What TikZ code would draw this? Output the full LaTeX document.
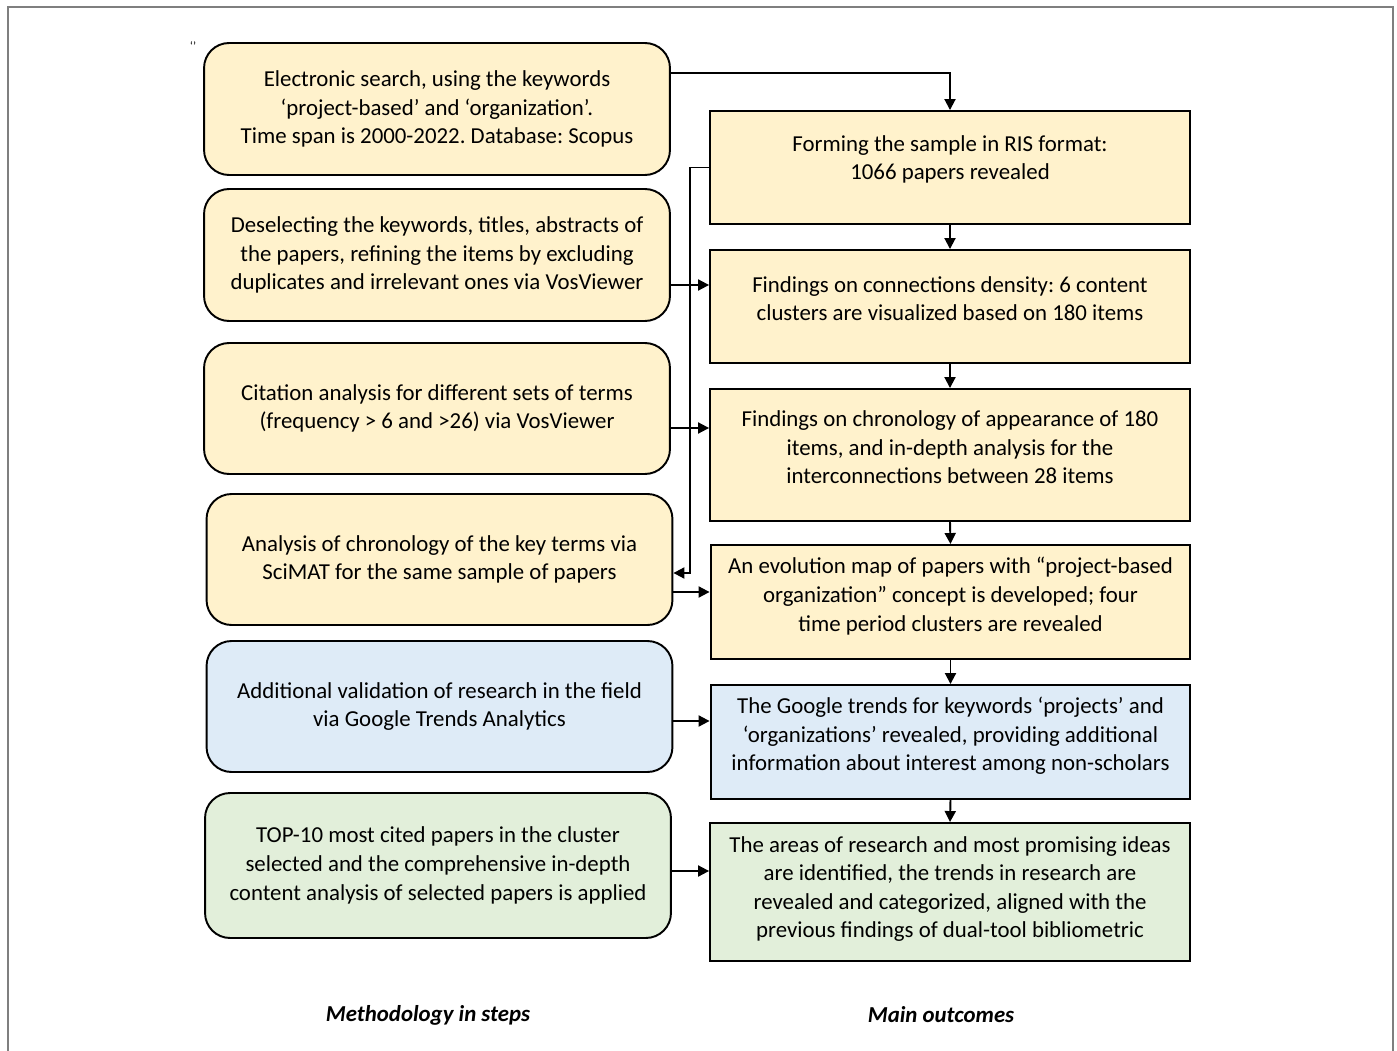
\documentclass[tikz,border=0pt]{standalone}
\usepackage{fontspec}
\setmainfont{Carlito}
\usetikzlibrary{arrows.meta}
\definecolor{stepyellow}{HTML}{FFF2CC}
\definecolor{stepblue}{HTML}{DEEBF7}
\definecolor{stepgreen}{HTML}{E2EFDA}
\definecolor{framegray}{HTML}{7F7F7F}
\newcommand{\boxfont}{\fontsize{13}{16.3}\selectfont}
\frenchspacing
\tikzset{
	inbox/.style={draw, line width=1.1pt, rounded corners=0.5cm, minimum width=9.32cm, align=center, font=\boxfont},
	outbox/.style={draw, line width=1.1pt, minimum width=9.6cm},
	txt/.style={align=center, font=\boxfont},
	conn/.style={line width=1.1pt, -{Triangle[length=0.22cm,width=0.22cm]}},
}
\begin{document}
	\begin{tikzpicture}[x=0.02cm, y=-0.02cm]
		\useasboundingbox (0,0) rectangle (1397,1051);
		% Frame
		\draw [framegray, line width=1.1pt] (8,1051) -- (8,7) -- (1393,7) -- (1393,1051);
		\node [font=\scriptsize] (tick) at (193,46) {‘’};
		% Method steps
		\node [inbox, fill=stepyellow, minimum height=2.64cm] (in1) at (437,109) {Electronic search, using the keywords\\‘project-based’ and ‘organization’.\\Time span is 2000-2022. Database: Scopus};
		\node [inbox, fill=stepyellow, minimum height=2.64cm] (in2) at (437,255) {Deselecting the keywords, titles, abstracts of\\the papers, refining the items by excluding\\duplicates and irrelevant ones via VosViewer};
		\node [inbox, fill=stepyellow, minimum height=2.62cm] (in3) at (437,408.5) {Citation analysis for different sets of terms\\(frequency > 6 and >26) via VosViewer};
		\node [inbox, fill=stepyellow, minimum height=2.62cm] (in4) at (439.5,559.5) {Analysis of chronology of the key terms via\\SciMAT for the same sample of papers};
		\node [inbox, fill=stepblue, minimum height=2.62cm] (in5) at (439.5,706.5) {Additional validation of research in the field\\via Google Trends Analytics};
		\node [inbox, fill=stepgreen, minimum height=2.9cm] (in6) at (438,865.5) {TOP-10 most cited papers in the cluster\\selected and the comprehensive in-depth\\content analysis of selected papers is applied};
		% Outcomes
		\node [outbox, fill=stepyellow, minimum height=2.26cm] (r1) at (950,167.5) {};
		\node [txt] (r1t) at (950,159.5) {Forming the sample in RIS format:\\1066 papers revealed};
		\node [outbox, fill=stepyellow, minimum height=2.26cm] (r2) at (950,306.5) {};
		\node [txt] (r2t) at (950,298.5) {Findings on connections density: 6 content\\clusters are visualized based on 180 items};
		\node [outbox, fill=stepyellow, minimum height=2.64cm] (r3) at (950,455) {};
		\node [txt] (r3t) at (950,447.5) {Findings on chronology of appearance of 180\\items, and in-depth analysis for the\\interconnections between 28 items};
		\node [outbox, fill=stepyellow, minimum height=2.28cm] (r4) at (950.5,602) {};
		\node [txt] (r4t) at (950.5,596) {An evolution map of papers with “project-based\\organization” concept is developed; four\\time period clusters are revealed};
		\node [outbox, fill=stepblue, minimum height=2.28cm] (r5) at (950.5,742) {};
		\node [txt] (r5t) at (950.5,736) {The Google trends for keywords ‘projects’ and\\‘organizations’ revealed, providing additional\\information about interest among non-scholars};
		\node [outbox, fill=stepgreen, minimum height=2.76cm] (r6) at (950,892) {};
		\node [txt] (r6t) at (950,889) {The areas of research and most promising ideas\\are identified, the trends in research are\\revealed and categorized, aligned with the\\previous findings of dual-tool bibliometric};
		% Captions
		\node [font=\boxfont\bfseries\itshape] (lmeth) at (428,1015) {Methodology in steps};
		\node [font=\boxfont\bfseries\itshape] (lout) at (941,1015) {Main outcomes};
		% Links
		\coordinate (c1) at (950,73);
		\coordinate (c2) at (690,285);
		\coordinate (c3) at (690,428);
		\coordinate (c4) at (690,592);
		\coordinate (c5) at (690,721);
		\coordinate (c6) at (690,871);
		\coordinate (back) at (690,573);
		\draw [conn] (in1.east |- c1) -| (r1.north);
		\draw [conn] (r1.south) -- (r2.north);
		\draw [conn] (r2.south) -- (r3.north);
		\draw [conn] (r3.south) -- (r4.north);
		\draw [conn] (r4.south) -- (r5.north);
		\draw [conn] (r5.south) -- (r6.north);
		\draw [conn] (in2.east |- c2) -- (r2.west |- c2);
		\draw [conn] (in3.east |- c3) -- (r3.west |- c3);
		\draw [conn] (in4.east |- c4) -- (r4.west |- c4);
		\draw [conn] (in5.east |- c5) -- (r5.west |- c5);
		\draw [conn] (in6.east |- c6) -- (r6.west |- c6);
		\draw [conn] (r1.west) -| (back) -- (in4.east |- back);
	\end{tikzpicture}
\end{document}
